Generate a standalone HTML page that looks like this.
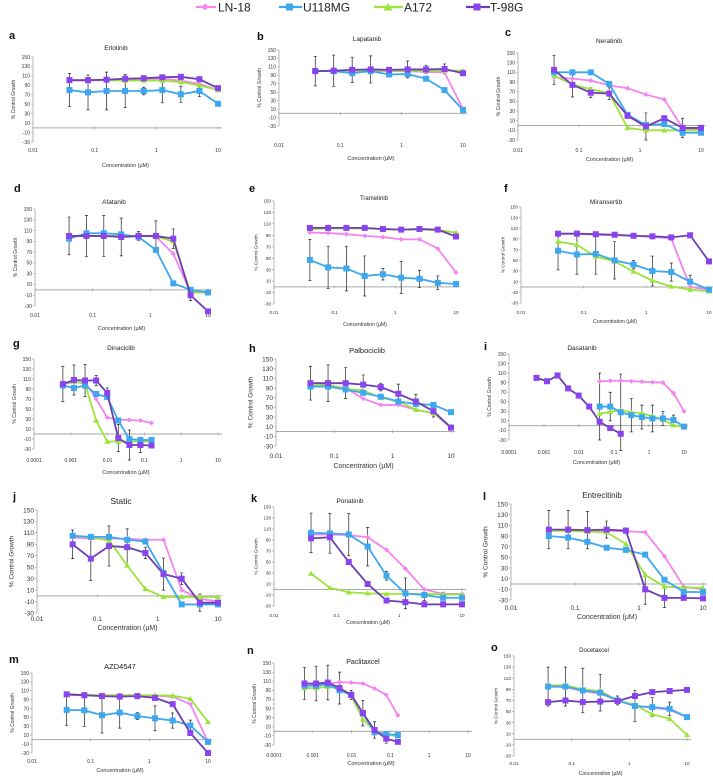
<!DOCTYPE html>
<html><head><meta charset="utf-8">
<style>
html,body{margin:0;padding:0;background:#fff;}
svg{display:block;font-family:"Liberation Sans",sans-serif;}
</style></head>
<body>
<svg id="fig" width="713" height="781" viewBox="0 0 713 781" xmlns="http://www.w3.org/2000/svg">
  <g font-size="12">
    <g>
      <line x1="196" y1="7" x2="216" y2="7" stroke="#f285f0" stroke-width="2.2"/>
      <rect x="202.5" y="4.5" width="5" height="5" fill="#f285f0" transform="rotate(45 205 7)"/>
      <text x="218" y="11.5" fill="#222">LN-18</text>
    </g>
    <g>
      <line x1="279" y1="7" x2="302" y2="7" stroke="#3ea8ee" stroke-width="2.2"/>
      <rect x="286" y="3.5" width="7" height="7" fill="#3ea8ee"/>
      <text x="303" y="11.5" fill="#222">U118MG</text>
    </g>
    <g>
      <line x1="374" y1="7" x2="403" y2="7" stroke="#9be43a" stroke-width="2.2"/>
      <polygon points="388,3 392.5,10.5 383.5,10.5" fill="#9be43a"/>
      <text x="404" y="11.5" fill="#222">A172</text>
    </g>
    <g>
      <line x1="466" y1="7" x2="490" y2="7" stroke="#6c3fb0" stroke-width="2.2"/>
      <rect x="473.5" y="3.5" width="7" height="7" fill="#8a44ee"/>
      <text x="490" y="11.5" fill="#222">T-98G</text>
    </g>
  </g>
</svg>
<script>
// concentrations (µM)
const concStd = [0.039,0.078,0.156,0.3125,0.625,1.25,2.5,5,10];
const concLow = [0.00061,0.00122,0.00244,0.00488,0.00977,0.0195,0.039,0.078,0.156];
const panelLetters = ['a','b','c','d','e','f','g','h','i','j','k','l','m','n','o'];
const panelTitles = ['Erlotinib','Lapatanib','Neratinib','Afatanib','Trametinib','Miransertib','Dinaciclib','Palbociclib','Dasatanib','Static','Ponatinib','Entrecitinib','AZD4547','Paclitaxcel','Docetaxcel'];
const yTicks = [150,130,110,90,70,50,30,10,-10,-30];
const xTickLabelsStd = ['0.01','0.1','1','10'];
const xTickLabelsLow = ['0.0001','0.001','0.01','0.1','1','10'];
const ln18Values = [
 [100,100,101,102,103,104,100,93,80],
 [100,100,100,100,100,100,98,97,10],
 [100,97,93,83,77,64,54,-5,-10],
 [100,100,100,100,100,99,67,-5,-5],
 [95,94,92,89,87,83,83,67,25],
 [100,100,98,97,96,94,91,0,-5],
 [100,103,104,70,33,29,28,27,22],
 [93,95,90,68,55,55,45,38,8],
 [93,94,94,93,92,91,90,68,30],
 [102,100,100,100,98,98,10,-5,-10],
 [100,100,99,95,72,38,0,-8,-8],
 [100,100,100,100,99,97,52,-5,-10],
 [100,100,100,100,100,99,97,80,-5],
 [100,103,105,108,107,105,94,80,35],
 [95,94,87,82,70,60,57,53,40]
];
const u118Values = [
 [80,75,78,78,78,80,71,78,51],
 [100,100,95,100,92,93,82,55,8],
 [110,110,110,86,22,1,3,-15,-15],
 [95,105,105,103,98,74,12,0,-5],
 [47,34,32,19,22,16,14,7,5],
 [68,61,62,50,42,30,28,10,-5],
 [97,92,97,80,74,27,-10,-12,-12],
 [93,93,87,80,72,62,57,55,40],
 [40,40,28,22,18,15,15,12,-2],
 [105,103,103,98,95,40,-15,-15,-15],
 [103,102,100,78,25,-7,-10,-15,-15],
 [90,87,79,68,64,55,8,-15,-15],
 [67,66,55,61,53,48,43,32,-5],
 [100,100,103,90,80,40,-2,-6,-8],
 [95,95,88,84,70,60,58,55,40]
];
const a172Values = [
 [101,101,101,100,100,100,97,90,80],
 [100,101,101,102,101,101,101,101,101],
 [103,85,75,67,-5,-10,-10,-10,-10],
 [100,100,100,100,100,99,90,-5,-5],
 [101,102,102,102,101,100,100,99,95],
 [85,79,57,48,29,12,1,-5,-8],
 [100,105,100,27,-15,-15,-15,-15,-15],
 [95,97,88,85,70,62,45,38,10],
 [25,29,32,28,26,20,12,1,-3],
 [105,102,97,53,12,-2,-2,-2,-2],
 [29,3,-5,-7,-8,-8,-8,-9,-9],
 [100,100,98,97,75,17,-5,-7,-7],
 [102,101,100,100,100,100,99,92,40],
 [95,95,98,95,78,27,0,-8,-10],
 [97,97,90,87,70,62,45,37,8]
];
const t98gValues = [
 [101,101,102,104,105,107,108,103,84],
 [100,101,103,104,103,104,104,105,95],
 [115,84,68,66,20,-2,15,-5,-5],
 [100,100,100,98,100,100,95,-10,-40],
 [103,103,103,103,101,100,101,100,88],
 [100,100,99,98,96,95,93,97,48],
 [100,108,107,107,82,-8,-22,-22,-23],
 [100,100,100,97,92,78,62,42,8],
 [100,93,105,78,63,40,8,-5,-17],
 [90,65,87,85,75,38,30,-12,-12],
 [93,95,50,10,-20,-23,-27,-27,-27],
 [102,102,101,102,100,-10,-26,-26,-27],
 [102,100,98,97,98,94,80,15,-30],
 [105,105,107,95,80,40,3,-16,-23],
 [67,70,67,68,69,78,85,87,89]
];
const errValues = [
 [35,37,40,35,8,27,17,12,0],
 [35,37,30,32,5,20,10,12,0],
 [30,25,10,12,5,28,0,20,0],
 [35,38,38,35,8,28,18,10,0],
 [36,37,39,35,10,28,15,12,0],
 [36,37,38,35,8,28,17,12,0],
 [35,30,32,10,10,27,30,15,0],
 [35,38,32,20,8,20,15,12,0],
 [70,30,80,35,25,28,15,10,0],
 [25,38,35,32,10,28,10,15,0],
 [36,36,38,35,8,28,10,10,0],
 [36,36,35,16,5,28,18,0,0],
 [35,36,40,35,8,28,17,12,0],
 [35,38,38,35,10,28,18,10,0],
 [35,35,40,33,8,28,17,12,0]
];
const errSeries = [1,3,3,3,1,1,3,3,1,3,1,3,1,3,1];

// layout per panel: [letterX,letterY,titleX,titleY,x0,x1,y150,yM30,tickY,axTitleY,minExp,fs,tfs]
const layout = [
 [9,39,116,50,33,218,57,142,152,167,-2,5,6.5],
 [257,40,367,41,279,463,50,126,147,160,-2,5,6.5],
 [505,36,609,43,518,701,53,140,152,161,-2,5,6.5],
 [14,192,114,204,35,208,209,306,317,330,-2,5,6.5],
 [249,192,374,200,274,456,201,304,314,326,-2,4.6,6],
 [504,192,606,204,521,709,207,303,314,323,-2,4.6,6.5],
 [13,347,121,350,34,218,359,449,462,474,-4,5,6.5],
 [249,352,367,353,276,451,359,446,458,468,-2,6.5,7.5],
 [484,350,582,350,509,684,354,440,454,464,-4,5,6.5],
 [13,500,121,504,37,218,510,613,621,630,-2,6.5,8.5],
 [251,502,350,503,274,462,507,606,617,624,-2,4.6,6.5],
 [483,500,602,498,511,703,504,600,610,619,-2,6.5,8],
 [9,663,120,669,32,208,673,753,763,772,-2,5,7.5],
 [247,654,363,664,274,468,663,745,757,765,-4,5,7],
 [491,651,594,652,514,687,656,756,765,775,-2,4.6,6]
];
const colors = ['#f285f0','#3ea8ee','#9be43a','#8a44ee'];
const lineColors = ['#f285f0','#3ea8ee','#9be43a','#6c3fb0'];
const NS = 'http://www.w3.org/2000/svg';
const svg = document.getElementById('fig');
function mk(tag, attrs, parent){const e=document.createElementNS(NS,tag);for(const k in attrs)e.setAttribute(k,attrs[k]);parent.appendChild(e);return e;}

panelTitles.forEach((title,p)=>{
  const L = layout[p];
  const [lx,ly,tx,ty,x0,x1,y150,ym30,tickY,axY,minExp,fs,tfs] = L;
  const g = mk('g',{},svg);
  
  
  const xs = c => x0 + (Math.log10(c) - minExp)/(1 - minExp)*(x1-x0);
  const ys = v => y150 + (150 - v)/180*(ym30-y150);
  const letter = mk('text',{x:lx,y:ly,'font-size':11,'font-weight':'bold',fill:'#111'},g);
  letter.textContent = panelLetters[p];
  
  
  const t = mk('text',{x:tx,y:ty,'font-size':tfs,'text-anchor':'middle',fill:'#222'},g);
  t.textContent = title;
  
  
  // y axis
  const ya = mk('line',{x1:x0,y1:y150,x2:x0,y2:ym30,stroke:'#999','stroke-width':0.7},g);
  
  
  yTicks.forEach(v=>{
    const yy = ys(v);
    mk('line',{x1:x0-2,y1:yy,x2:x0,y2:yy,stroke:'#999','stroke-width':0.6},g);
    const tl = mk('text',{x:x0-3,y:yy+fs*0.35,'font-size':fs,'text-anchor':'end',fill:'#333'},g);
    tl.textContent = v;
    
    
  });
  // zero line
  const zl = mk('line',{x1:x0,y1:ys(0),x2:x1+4,y2:ys(0),stroke:'#aaa','stroke-width':1},g);
  
  
  const labels = minExp===-4 ? xTickLabelsLow : xTickLabelsStd;
  labels.forEach(lbl=>{
    const xx = xs(parseFloat(lbl));
    mk('line',{x1:xx,y1:ys(0)-1.5,x2:xx,y2:ys(0)+1.5,stroke:'#999','stroke-width':0.6},g);
    const xl = mk('text',{x:xx,y:tickY,'font-size':fs,'text-anchor':'middle',fill:'#333'},g);
    xl.textContent = lbl;
    
    
  });
  const at = mk('text',{x:(x0+x1)/2,y:axY,'font-size':fs+0.5,'text-anchor':'middle',fill:'#333'},g);
  at.textContent = 'Concentration (\u00b5M)';
  
  
  const yt = mk('text',{x:0,y:0,'font-size':fs,'text-anchor':'middle',fill:'#333',transform:`translate(${x0-fs*3.6},${(y150+ym30)/2}) rotate(-90)`},g);
  yt.textContent = '% Control Growth';
  
  

  const seriesVals = [ln18Values[p],u118Values[p],a172Values[p],t98gValues[p]];
  const seriesNames = ['ln18','u118mg','a172','t98g'];
  const concFor = s => (p===6 || p===13 || (p===8 && s===3)) ? concLow : concStd;
  // error bars
  const es = errSeries[p];
  const ec = concFor(es);
  errValues[p].forEach((e,i)=>{
    if(e<=0) return;
    const xx = xs(ec[i]), v = seriesVals[es][i];
    const eb = mk('path',{d:`M${xx},${ys(v+e)}V${ys(v-e)}M${xx-1.5},${ys(v+e)}H${xx+1.5}M${xx-1.5},${ys(v-e)}H${xx+1.5}`,stroke:'#222','stroke-width':0.7,fill:'none'},g);
    
    
  });
  [0,2,1,3].forEach(s=>{
    const vals = seriesVals[s], cc = concFor(s);
    const pts = vals.map((v,i)=>[xs(cc[i]),ys(v)]);
    const pl = mk('polyline',{points:pts.map(q=>q.join(',')).join(' '),fill:'none',stroke:lineColors[s],'stroke-width':1.8},g);
    
    
    pts.forEach(([px,py])=>{
      let m;
      if(s===0) m = mk('rect',{x:px-1.8,y:py-1.8,width:3.6,height:3.6,fill:colors[0],transform:`rotate(45 ${px} ${py})`},g);
      else if(s===2) m = mk('polygon',{points:`${px},${py-3} ${px+3},${py+2.2} ${px-3},${py+2.2}`,fill:colors[2]},g);
      else m = mk('rect',{x:px-3,y:py-3,width:6,height:6,fill:colors[s]},g);
      
      
    });
  });
});
</script>
</body></html>
